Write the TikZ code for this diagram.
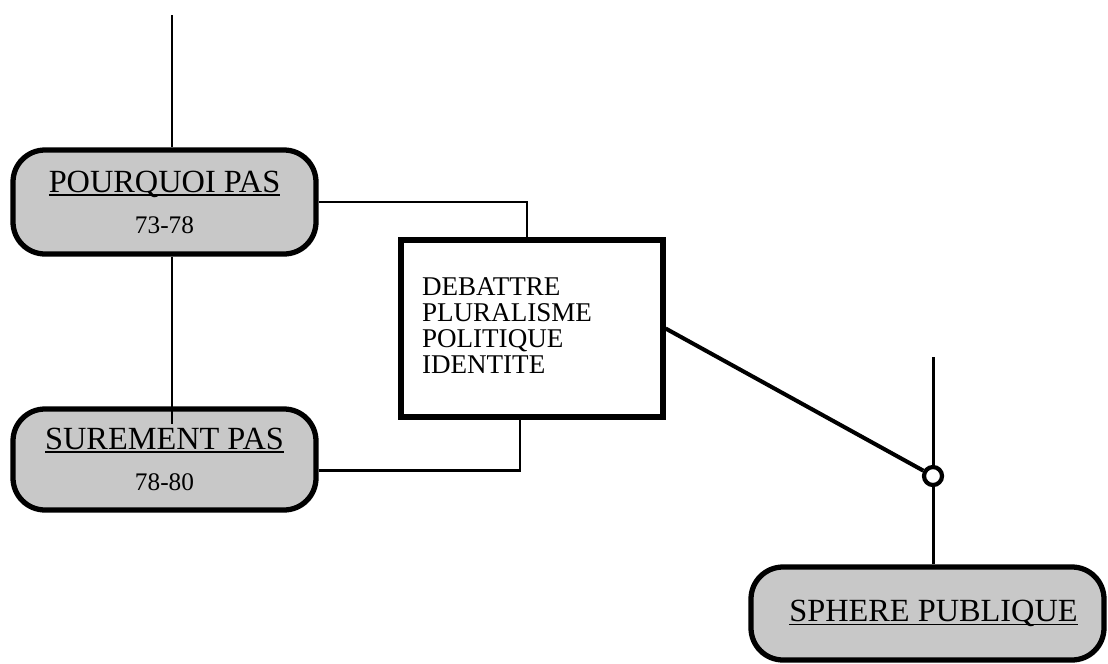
\documentclass[tikz,border=0pt]{standalone}
\usepackage{fontspec}
\setmainfont{Liberation Serif}
\usepackage{tikz}
\definecolor{gg}{RGB}{200,200,200}
\newlength\ulwd
\newcommand\uln[1]{\settowidth\ulwd{#1}\rlap{\rule[-1.1pt]{\ulwd}{0.55pt}}#1}
\tikzset{capsule/.style={draw, line width=1.5pt, fill=gg, rounded corners=0.32cm, align=center, inner sep=0pt, font=\fontsize{9.2}{11.7}\selectfont},
  link/.style={line width=0.85pt}}

\begin{document}
\begin{tikzpicture}
\useasboundingbox (0,0) rectangle (11.08,6.63);
\node[capsule, minimum width=3.03cm, minimum height=1.04cm] (pourquoi) at (1.645,4.61) {\uln{POURQUOI PAS}\\{\fontsize{7.2}{11.7}\selectfont 73-78}};
\node[capsule, minimum width=3.03cm, minimum height=1.01cm] (surement) at (1.645,2.035) {\uln{SUREMENT PAS}\\{\fontsize{7.2}{11.7}\selectfont 78-80}};
\node[capsule, minimum width=3.53cm, minimum height=0.93cm] (sphere) at (9.275,0.495) {\hspace{0.12cm}\uln{SPHERE PUBLIQUE}};
\node[draw, line width=1.5pt, fill=white, minimum width=2.62cm, minimum height=1.77cm] (theme) at (5.32,3.345) {};
\node[anchor=north west, inner sep=0pt, align=left, font=\fontsize{7.7}{7.4}\selectfont] (themetext) at ([shift={(0.23,-0.40)}]theme.north west) {DEBATTRE\\PLURALISME\\POLITIQUE\\IDENTITE};
\node[draw, circle, line width=1.2pt, fill=white, minimum size=0.18cm, inner sep=0pt] (junction) at (9.33,1.87) {};
\coordinate (top) at (1.72,6.48);
\coordinate (stem) at (9.33,3.06);
% connectors
\draw[link] (top) -- (top |- pourquoi.north);
\draw[link] (top |- pourquoi.south) -- ([yshift=-0.18cm]top |- surement.north);
\draw[link] (pourquoi.east) -| ([xshift=-0.05cm]theme.north);
\draw[link] ([yshift=-0.11cm]surement.east) -| ([xshift=-0.12cm]theme.south);
\draw[line width=1.15pt] (theme.east) -- (junction);
\draw[link] (stem) -- (junction) -- (junction |- sphere.north);
\end{tikzpicture}
\end{document}
